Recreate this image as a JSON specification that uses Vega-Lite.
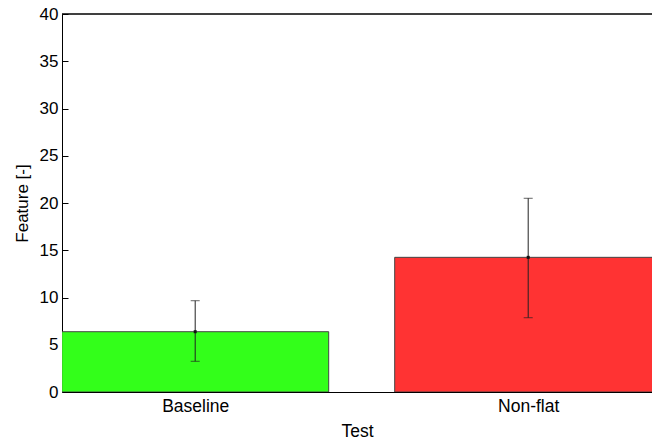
{
  "$schema": "https://vega.github.io/schema/vega-lite/v6.json",
  "autosize": {"type": "none"},
  "padding": {"left": 62, "top": 14, "right": 0, "bottom": 51},
  "width": 590,
  "height": 378,
  "background": "white",
  "config": {"view": {"stroke": null}, "font": "Liberation Sans"},
  "data": {"values": [
    {"test": "Baseline", "pos": 1, "mean": 6.38, "lo": 3.25, "hi": 9.66},
    {"test": "Non-flat", "pos": 2, "mean": 14.25, "lo": 7.86, "hi": 20.5}
  ]},
  "encoding": {
    "x": {"field": "pos", "type": "quantitative",
      "scale": {"domain": [0.6, 2.3718], "nice": false, "zero": false, "padding": 0},
      "axis": {"title": "Test", "values": [1, 2], "grid": false, "ticks": false,
        "labelExpr": "datum.value == 1 ? 'Baseline' : (datum.value == 2 ? 'Non-flat' : '')",
        "labelFontSize": 17.5, "labelColor": "black", "labelPadding": 5,
        "titleFontSize": 17.5, "titleFontWeight": "normal", "titleColor": "black", "titlePadding": 8,
        "domainColor": "black", "domainWidth": 1}}
  },
  "layer": [
    {
      "mark": {"type": "bar", "width": 267, "clip": true, "stroke": "#444444", "strokeWidth": 1},
      "encoding": {
        "y": {"field": "mean", "type": "quantitative",
          "scale": {"domain": [0, 40], "nice": false},
          "axis": {"title": "Feature [-]", "values": [0,5,10,15,20,25,30,35,40], "grid": false,
            "tickSize": -6, "tickColor": "black", "labelPadding": 10,
            "labelFontSize": 17, "labelColor": "black",
            "titleFontSize": 17, "titleFontWeight": "normal", "titleColor": "black", "titlePadding": 8,
            "domainColor": "black", "domainWidth": 1}},
        "color": {"field": "test", "type": "nominal",
          "scale": {"domain": ["Baseline", "Non-flat"], "range": ["#33FF1A", "#FF3333"]},
          "legend": null}
      }
    },
    {
      "mark": {"type": "rule", "color": "#222222", "strokeWidth": 1},
      "encoding": {
        "y": {"field": "lo", "type": "quantitative"},
        "y2": {"field": "hi"}
      }
    },
    {
      "mark": {"type": "tick", "orient": "horizontal", "size": 9, "thickness": 1, "color": "#222222"},
      "encoding": {"y": {"field": "lo", "type": "quantitative"}}
    },
    {
      "mark": {"type": "tick", "orient": "horizontal", "size": 9, "thickness": 1, "color": "#222222"},
      "encoding": {"y": {"field": "hi", "type": "quantitative"}}
    },
    {
      "mark": {"type": "square", "size": 9, "filled": true, "color": "#111111", "opacity": 1},
      "encoding": {"y": {"field": "mean", "type": "quantitative"}}
    },
    {
      "mark": {"type": "rule", "color": "black", "strokeWidth": 1},
      "encoding": {"y": {"datum": 40}, "x": {"value": 0}, "x2": {"value": 590}}
    }
  ]
}
